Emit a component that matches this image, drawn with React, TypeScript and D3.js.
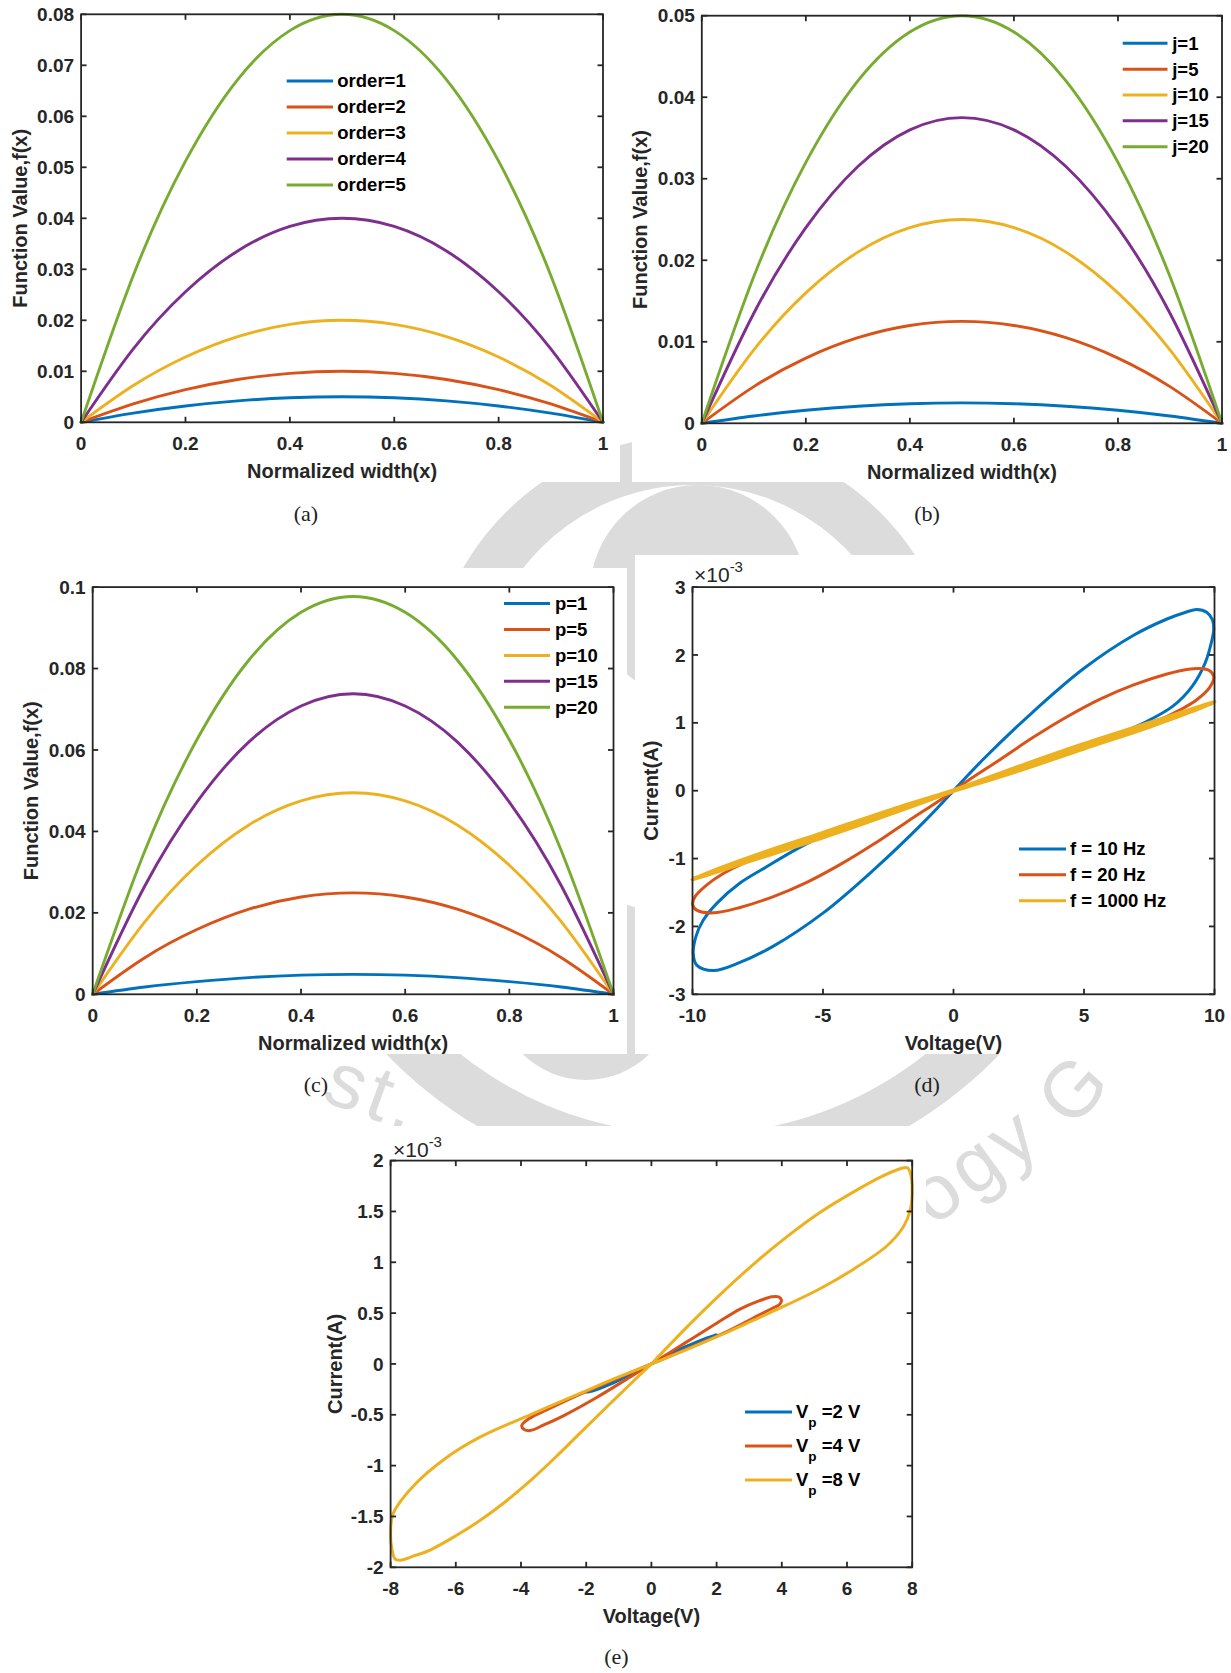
import React from 'react';
import * as d3 from 'd3';

const FONT = '"Liberation Sans", Arial, Helvetica, sans-serif';
const SERIF = '"Liberation Serif", "DejaVu Serif", serif';
const AXIS_COLOR = '#262626';
const SEAL_GREY = '#dcdcdc';
const BLUE = '#0072BD';
const RED = '#D95319';
const YELLOW = '#EDB120';
const PURPLE = '#7E2F8E';
const GREEN = '#77AC30';
const FIVE_COLORS = [BLUE, RED, YELLOW, PURPLE, GREEN];
const THREE_COLORS = [BLUE, RED, YELLOW];

type Pt = [number, number];

// sample positions along the normalized width
const widthSamples = [0, 0.1, 0.2, 0.3, 0.4, 0.5, 0.6, 0.7, 0.8, 0.9, 1];
const widthTicks = [0, 0.2, 0.4, 0.6, 0.8, 1];

// (a) function value for each order
const orderLabels = ['order=1', 'order=2', 'order=3', 'order=4', 'order=5'];
const order1 = [0, 0.0018, 0.0032, 0.0042, 0.0048, 0.005, 0.0048, 0.0042, 0.0032, 0.0018, 0];
const order2 = [0, 0.0036, 0.0064, 0.0084, 0.0096, 0.01, 0.0096, 0.0084, 0.0064, 0.0036, 0];
const order3 = [0, 0.0072, 0.0128, 0.0168, 0.0192, 0.02, 0.0192, 0.0168, 0.0128, 0.0072, 0];
const order4 = [0, 0.0144, 0.0256, 0.0336, 0.0384, 0.04, 0.0384, 0.0336, 0.0256, 0.0144, 0];
const order5 = [0, 0.0288, 0.0512, 0.0672, 0.0768, 0.08, 0.0768, 0.0672, 0.0512, 0.0288, 0];
const orderTicks = [0, 0.01, 0.02, 0.03, 0.04, 0.05, 0.06, 0.07, 0.08];

// (b) function value for each j
const jLabels = ['j=1', 'j=5', 'j=10', 'j=15', 'j=20'];
const j1 = [0, 0.0009, 0.0016, 0.0021, 0.0024, 0.0025, 0.0024, 0.0021, 0.0016, 0.0009, 0];
const j5 = [0, 0.0045, 0.008, 0.0105, 0.012, 0.0125, 0.012, 0.0105, 0.008, 0.0045, 0];
const j10 = [0, 0.009, 0.016, 0.021, 0.024, 0.025, 0.024, 0.021, 0.016, 0.009, 0];
const j15 = [0, 0.0135, 0.024, 0.0315, 0.036, 0.0375, 0.036, 0.0315, 0.024, 0.0135, 0];
const j20 = [0, 0.018, 0.032, 0.042, 0.048, 0.05, 0.048, 0.042, 0.032, 0.018, 0];
const jTicks = [0, 0.01, 0.02, 0.03, 0.04, 0.05];

// (c) function value for each p
const pLabels = ['p=1', 'p=5', 'p=10', 'p=15', 'p=20'];
const p1 = [0, 0.0018, 0.0031, 0.0041, 0.0047, 0.0049, 0.0047, 0.0041, 0.0031, 0.0018, 0];
const p5 = [0, 0.009, 0.0159, 0.0209, 0.0239, 0.0249, 0.0239, 0.0209, 0.0159, 0.009, 0];
const p10 = [0, 0.0178, 0.0317, 0.0416, 0.0475, 0.0495, 0.0475, 0.0416, 0.0317, 0.0178, 0];
const p15 = [0, 0.0266, 0.0472, 0.062, 0.0708, 0.0738, 0.0708, 0.062, 0.0472, 0.0266, 0];
const p20 = [0, 0.0352, 0.0625, 0.0821, 0.0938, 0.0977, 0.0938, 0.0821, 0.0625, 0.0352, 0];
const pTicks = [0, 0.02, 0.04, 0.06, 0.08, 0.1];

// (d) pinched hysteresis loops, [voltage V, current x1e-3 A]
const freqLabels = ['f = 10 Hz', 'f = 20 Hz', 'f = 1000 Hz'];
const loopF10: Pt[] = [
  [0, 0], [1.16, 0.47], [3.07, 1.17], [4.99, 1.8], [6.9, 2.29], [8.18, 2.53], [8.9, 2.63], [9.32, 2.67],
  [9.7, 2.63], [9.92, 2.52], [9.97, 2.38], [9.89, 2.2], [9.64, 1.88], [9.13, 1.53], [8.42, 1.25],
  [7.4, 1.02], [6.38, 0.85], [5, 0.66], [3, 0.4], [1, 0.13], [0, 0],
  [-1, -0.13], [-3, -0.4], [-5, -0.67], [-6.01, -0.86], [-7.16, -1.12], [-8.18, -1.36], [-9.07, -1.66],
  [-9.59, -1.91], [-9.87, -2.15], [-9.97, -2.4], [-9.84, -2.57], [-9.2, -2.65], [-8.18, -2.53],
  [-6.9, -2.29], [-4.99, -1.8], [-3.07, -1.17], [-1.16, -0.47], [0, 0],
];
const loopF20: Pt[] = [
  [0, 0], [0.52, 0.14], [1.79, 0.46], [3.07, 0.79], [4.35, 1.09], [5.62, 1.35], [6.9, 1.56], [8.18, 1.72],
  [9.0, 1.79], [9.44, 1.8], [9.8, 1.77], [9.97, 1.68], [9.83, 1.53], [9.32, 1.34], [8.68, 1.19],
  [8.04, 1.07], [7, 0.93], [5, 0.66], [3, 0.4], [1, 0.13], [0, 0],
  [-1, -0.13], [-3, -0.4], [-5, -0.66], [-6.39, -0.85], [-7.16, -0.95], [-8.05, -1.07], [-8.82, -1.22],
  [-9.46, -1.39], [-9.9, -1.56], [-9.99, -1.68], [-9.84, -1.76], [-9.2, -1.8], [-8.18, -1.72],
  [-6.9, -1.56], [-5.62, -1.35], [-4.35, -1.09], [-3.07, -0.79], [-1.79, -0.46], [-0.52, -0.14], [0, 0],
];
const loopF1000: Pt[] = [
  [0, 0], [2.5, 0.35], [5, 0.685], [7.5, 0.995], [10, 1.3], [7.5, 0.945], [5, 0.625], [2.5, 0.3], [0, 0],
  [-2.5, -0.3], [-5, -0.625], [-7.5, -0.945], [-10, -1.3], [-7.5, -0.995], [-5, -0.685], [-2.5, -0.35], [0, 0],
];
const freqVTicks = [-10, -5, 0, 5, 10];
const freqITicks = [-3, -2, -1, 0, 1, 2, 3];

// (e) loops for each peak voltage, [voltage V, current x1e-3 A]
const peakVoltages = [2, 4, 8];
const loopVp2: Pt[] = [
  [0, 0], [0.56, 0.1], [1.2, 0.19], [1.75, 0.26], [2, 0.29], [1.9, 0.275], [1.0, 0.14], [0, 0],
  [-1.0, -0.14], [-1.9, -0.265], [-1.98, -0.28], [-1.2, -0.19], [-0.55, -0.09], [0, 0],
];
const loopVp4: Pt[] = [
  [0, 0], [1, 0.2], [2, 0.4], [2.72, 0.54], [3.3, 0.62], [3.7, 0.66], [3.9, 0.66], [3.99, 0.63],
  [3.93, 0.585], [3.7, 0.545], [3.3, 0.48], [2.2, 0.3], [1.1, 0.15], [0, 0],
  [-1.1, -0.15], [-2.2, -0.3], [-3.2, -0.45], [-3.6, -0.51], [-3.85, -0.56], [-3.98, -0.61],
  [-3.9, -0.645], [-3.72, -0.655], [-3.3, -0.6], [-2.7, -0.51], [-1.68, -0.33], [-0.66, -0.13], [0, 0],
];
const loopVp8: Pt[] = [
  [0, 0], [1.08, 0.36], [2.1, 0.68], [3.13, 0.98], [4.15, 1.25], [5.17, 1.49], [6.19, 1.69], [7.01, 1.835],
  [7.63, 1.92], [7.85, 1.93], [7.95, 1.87], [8.0, 1.68], [7.93, 1.5], [7.73, 1.35], [7.22, 1.16],
  [6.19, 0.93], [5.17, 0.74], [4.15, 0.58], [3.13, 0.43], [2.1, 0.28], [1.08, 0.14], [0, 0],
  [-1.17, -0.15], [-2.19, -0.29], [-3.72, -0.5], [-5.26, -0.72], [-6.28, -0.92], [-7.3, -1.2],
  [-7.92, -1.47], [-8.0, -1.66], [-7.96, -1.82], [-7.86, -1.92], [-7.7, -1.93], [-7.3, -1.89],
  [-6.79, -1.83], [-6.0, -1.69], [-5.26, -1.54], [-4.5, -1.36], [-3.72, -1.15], [-2.95, -0.92],
  [-2.19, -0.68], [-1.17, -0.36], [0, 0],
];
const ampVTicks = [-8, -6, -4, -2, 0, 2, 4, 6, 8];
const ampITicks = [-2, -1.5, -1, -0.5, 0, 0.5, 1, 1.5, 2];

interface SeriesDef {
  points: Pt[];
  color: string;
  width: number;
  loop?: boolean;
}

interface LegendDef {
  x1: number;
  x2: number;
  tx: number;
  y0: number;
  step: number;
  labels: React.ReactNode[];
  colors: string[];
}

interface PanelProps {
  box: [number, number, number, number];
  xDomain: [number, number];
  yDomain: [number, number];
  xTicks: number[];
  yTicks: number[];
  series: SeriesDef[];
  legend: LegendDef;
  xLabel: string;
  yLabel: string;
  yLabelX: number;
  caption: string;
  captionPos: [number, number];
  exponent?: [number, number];
}

const zip = (xs: number[], ys: number[]): Pt[] => xs.map((v, i) => [v, ys[i]] as Pt);

function Panel(props: PanelProps) {
  const { box, xDomain, yDomain, xTicks, yTicks, series, legend, xLabel, yLabel, yLabelX, caption, captionPos, exponent } = props;
  const [l, t, r, b] = box;
  const x = d3.scaleLinear().domain(xDomain).range([l, r]);
  const y = d3.scaleLinear().domain(yDomain).range([b, t]);
  const tickLen = 5.5;

  const smooth = d3.line<Pt>().x((d) => x(d[0])).y((d) => y(d[1])).curve(d3.curveNatural);
  const loop = d3.line<Pt>().x((d) => x(d[0])).y((d) => y(d[1])).curve(d3.curveCatmullRom.alpha(0.5));

  return (
    <g>
      {series.map((s, i) => (
        <path
          key={i}
          d={(s.loop ? loop : smooth)(s.points) || ''}
          fill="none"
          stroke={s.color}
          strokeWidth={s.width}
          strokeLinejoin="round"
          strokeLinecap="round"
        />
      ))}

      <rect x={l} y={t} width={r - l} height={b - t} fill="none" stroke={AXIS_COLOR} strokeWidth={1.8} />

      {xTicks.map((v) => (
        <g key={'xt' + v}>
          <line x1={x(v)} x2={x(v)} y1={b} y2={b - tickLen} stroke={AXIS_COLOR} strokeWidth={1.8} />
          <line x1={x(v)} x2={x(v)} y1={t} y2={t + tickLen} stroke={AXIS_COLOR} strokeWidth={1.8} />
          <text x={x(v)} y={b + 28} textAnchor="middle" fontFamily={FONT} fontWeight="bold" fontSize={19} fill={AXIS_COLOR}>
            {String(v)}
          </text>
        </g>
      ))}
      {yTicks.map((v) => (
        <g key={'yt' + v}>
          <line x1={l} x2={l + tickLen} y1={y(v)} y2={y(v)} stroke={AXIS_COLOR} strokeWidth={1.8} />
          <line x1={r} x2={r - tickLen} y1={y(v)} y2={y(v)} stroke={AXIS_COLOR} strokeWidth={1.8} />
          <text x={l - 7} y={y(v) + 6.6} textAnchor="end" fontFamily={FONT} fontWeight="bold" fontSize={19} fill={AXIS_COLOR}>
            {String(v)}
          </text>
        </g>
      ))}

      {exponent && (
        <text x={exponent[0]} y={exponent[1]} fontFamily={FONT} fontSize={21} fill={AXIS_COLOR}>
          <tspan>×10</tspan>
          <tspan dy={-10} fontSize={15}>-3</tspan>
        </text>
      )}

      <text x={(l + r) / 2} y={b + 55.5} textAnchor="middle" fontFamily={FONT} fontWeight="bold" fontSize={20} fill={AXIS_COLOR}>
        {xLabel}
      </text>
      <text
        transform={`translate(${yLabelX + 7},${(t + b) / 2}) rotate(-90)`}
        textAnchor="middle"
        fontFamily={FONT}
        fontWeight="bold"
        fontSize={20}
        fill={AXIS_COLOR}
      >
        {yLabel}
      </text>

      {legend.labels.map((lab, i) => {
        const ly = legend.y0 + i * legend.step;
        return (
          <g key={'lg' + i}>
            <line x1={legend.x1} x2={legend.x2} y1={ly} y2={ly} stroke={legend.colors[i]} strokeWidth={3} />
            <text x={legend.tx} y={ly} dy="0.35em" fontFamily={FONT} fontWeight="bold" fontSize={18.5} fill="#000">
              {lab}
            </text>
          </g>
        );
      })}

      <text x={captionPos[0]} y={captionPos[1]} textAnchor="middle" fontFamily={SERIF} fontSize={22} fill="#222">
        {caption}
      </text>
    </g>
  );
}

// faint institutional seal printed behind the figure
function Seal() {
  const oc = [693, 760];
  const oR = 400;
  const a0 = (25 * Math.PI) / 180;
  const a1 = (155 * Math.PI) / 180;
  const outerBottom = `M ${oc[0] + oR * Math.cos(a0)} ${oc[1] + oR * Math.sin(a0)} A ${oR} ${oR} 0 0 1 ${
    oc[0] + oR * Math.cos(a1)
  } ${oc[1] + oR * Math.sin(a1)}`;
  const sealWord = (str: string, x: number, y: number, angle: number) => (
    <text
      transform={`translate(${x},${y}) rotate(${angle})`}
      fontFamily={FONT}
      fontSize={78}
      letterSpacing={5}
      fill={SEAL_GREY}
    >
      {str}
    </text>
  );
  return (
    <g>
      <circle cx={693} cy={700} r={240} fill="none" stroke={SEAL_GREY} strokeWidth={50} />
      <path d={outerBottom} fill="none" stroke={SEAL_GREY} strokeWidth={50} />
      <circle cx={698} cy={593} r={108} fill={SEAL_GREY} />
      <circle cx={586} cy={990} r={90} fill={SEAL_GREY} />
      {sealWord('st.', 320, 1100, 20)}
      {sealWord('ogy', 933, 1227, -36)}
      {sealWord('G', 1072, 1130, -48)}
    </g>
  );
}

const vpLabel = (v: number) => (
  <>
    <tspan>V</tspan>
    <tspan dy={9} fontSize={13.5}>p</tspan>
    <tspan dy={-9}>{` =${v} V`}</tspan>
  </>
);

export default function App() {
  const fnWidth = 2.9;
  return (
    <svg
      width={1231}
      height={1673}
      viewBox="0 0 1231 1673"
      style={{ position: 'absolute', left: 0, top: 0, display: 'block' }}
    >
      <rect x={0} y={0} width={1231} height={1673} fill="#fff" />
      <Seal />
      {/* white panel backgrounds */}
      <rect x={0} y={0} width={620} height={482} fill="#fff" />
      <rect x={632} y={0} width={599} height={482} fill="#fff" />
      <rect x={0} y={568} width={627} height={486} fill="#fff" />
      <rect x={635} y={555} width={596} height={499} fill="#fff" />
      <rect x={0} y={1126} width={926} height={547} fill="#fff" />

      <Panel
        box={[81.1, 14.3, 603, 422.3]}
        xDomain={[0, 1]}
        yDomain={[0, 0.08]}
        xTicks={widthTicks}
        yTicks={orderTicks}
        series={[order1, order2, order3, order4, order5].map((v, i) => ({
          points: zip(widthSamples, v),
          color: FIVE_COLORS[i],
          width: fnWidth,
        }))}
        legend={{ x1: 286.7, x2: 333, tx: 337.3, y0: 81, step: 26, labels: orderLabels, colors: FIVE_COLORS }}
        xLabel="Normalized width(x)"
        yLabel="Function Value,f(x)"
        yLabelX={19.8}
        caption="(a)"
        captionPos={[306, 521]}
      />

      <Panel
        box={[701.8, 15.7, 1222, 423.3]}
        xDomain={[0, 1]}
        yDomain={[0, 0.05]}
        xTicks={widthTicks}
        yTicks={jTicks}
        series={[j1, j5, j10, j15, j20].map((v, i) => ({
          points: zip(widthSamples, v),
          color: FIVE_COLORS[i],
          width: fnWidth,
        }))}
        legend={{ x1: 1122.7, x2: 1167.5, tx: 1172.2, y0: 43.3, step: 25.85, labels: jLabels, colors: FIVE_COLORS }}
        xLabel="Normalized width(x)"
        yLabel="Function Value,f(x)"
        yLabelX={639.5}
        caption="(b)"
        captionPos={[927, 521]}
      />

      <Panel
        box={[92.7, 587.1, 613.5, 994.3]}
        xDomain={[0, 1]}
        yDomain={[0, 0.1]}
        xTicks={widthTicks}
        yTicks={pTicks}
        series={[p1, p5, p10, p15, p20].map((v, i) => ({
          points: zip(widthSamples, v),
          color: FIVE_COLORS[i],
          width: fnWidth,
        }))}
        legend={{ x1: 504, x2: 550, tx: 555, y0: 603.6, step: 25.9, labels: pLabels, colors: FIVE_COLORS }}
        xLabel="Normalized width(x)"
        yLabel="Function Value,f(x)"
        yLabelX={30.6}
        caption="(c)"
        captionPos={[316, 1092]}
      />

      <Panel
        box={[692.5, 587.1, 1214.5, 994.3]}
        xDomain={[-10, 10]}
        yDomain={[-3, 3]}
        xTicks={freqVTicks}
        yTicks={freqITicks}
        series={[
          { points: loopF10, color: BLUE, width: 3, loop: true },
          { points: loopF20, color: RED, width: 3, loop: true },
          { points: loopF1000, color: YELLOW, width: 4.5, loop: true },
        ]}
        legend={{ x1: 1019, x2: 1066, tx: 1070, y0: 849, step: 25.85, labels: freqLabels, colors: THREE_COLORS }}
        xLabel="Voltage(V)"
        yLabel="Current(A)"
        yLabelX={651}
        caption="(d)"
        captionPos={[927, 1092]}
        exponent={[694, 582]}
      />

      <Panel
        box={[390.6, 1160.6, 912.2, 1567.3]}
        xDomain={[-8, 8]}
        yDomain={[-2, 2]}
        xTicks={ampVTicks}
        yTicks={ampITicks}
        series={[
          { points: loopVp2, color: BLUE, width: 3, loop: true },
          { points: loopVp4, color: RED, width: 3, loop: true },
          { points: loopVp8, color: YELLOW, width: 3, loop: true },
        ]}
        legend={{
          x1: 745,
          x2: 792,
          tx: 796,
          y0: 1412,
          step: 34,
          labels: peakVoltages.map(vpLabel),
          colors: THREE_COLORS,
        }}
        xLabel="Voltage(V)"
        yLabel="Current(A)"
        yLabelX={334.7}
        caption="(e)"
        captionPos={[616.5, 1664]}
        exponent={[393, 1156.5]}
      />
    </svg>
  );
}
